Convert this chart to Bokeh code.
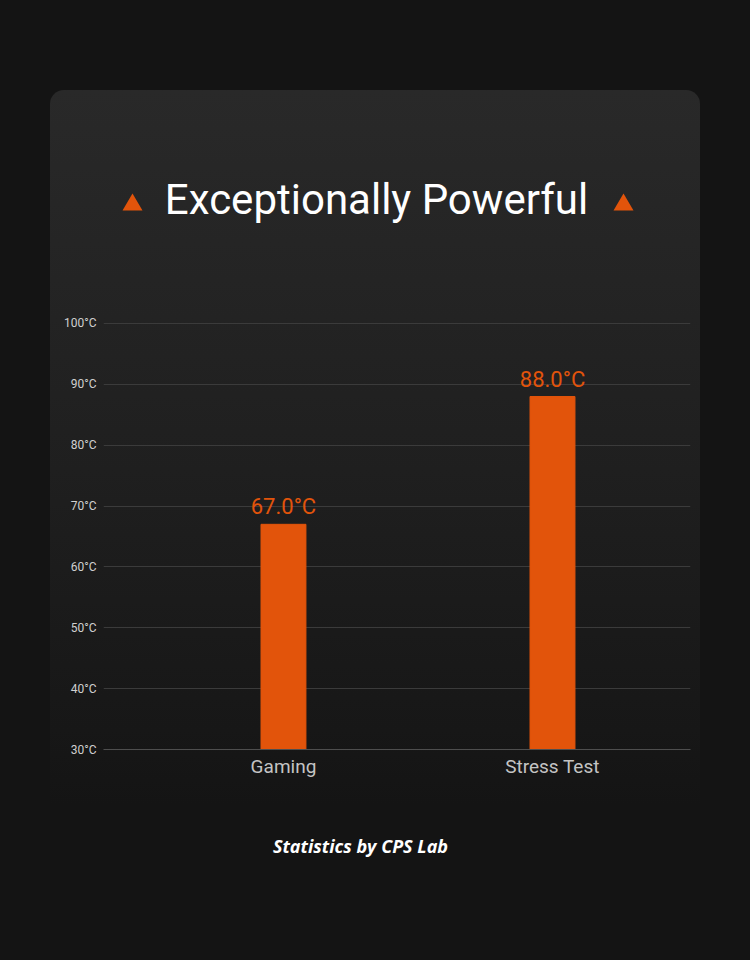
from bokeh.plotting import figure
from bokeh.layouts import column
from bokeh.models import (Range1d, FixedTicker, ColumnDataSource, LabelSet, Label)
from bokeh.core.properties import value
from bokeh.embed import file_html
from bokeh.resources import INLINE

# ---- data ----
categories = ["Gaming", "Stress Test"]
temps = [67.0, 88.0]
y_ticks = [30, 40, 50, 60, 70, 80, 90, 100]
y_tick_labels = [f"{t}°C" for t in y_ticks]
title_text = "Exceptionally Powerful"
footer_text = "Statistics by CPS Lab"

BG = "#141414"
ORANGE = "#e2540b"
CARD_W = 650
FRAME_L, FRAME_R = 53, 10  # main chart borders inside the card
GRAD = ("linear-gradient(to bottom, #292929 0px, #1f1f1f 380px, #171717 640px, "
        "#141414 715px, #141414 780px)")


def card_style(offset, radius=False):
    st = {"background-image": GRAD,
          "background-size": f"{CARD_W}px 780px",
          "background-position": f"0px {-offset}px",
          "background-repeat": "no-repeat",
          "background-color": BG}
    if radius:
        st["border-radius"] = "14px 14px 0 0"
    return st


def bare_figure(h, offset, margin, radius=False):
    # the column aligns frames with the main chart, so map card pixels onto that frame
    f = figure(width=CARD_W, height=h, output_backend="svg", toolbar_location=None,
               x_range=Range1d(FRAME_L, CARD_W - FRAME_R), y_range=Range1d(h, 0),
               x_axis_type=None, y_axis_type=None, min_border=0,
               border_fill_alpha=0, background_fill_alpha=0, outline_line_color=None,
               margin=margin, styles=card_style(offset, radius))
    f.xgrid.visible = False
    f.ygrid.visible = False
    return f


# ---- header: title with triangles (card top at page y=90) ----
HEAD_H = 210
head = bare_figure(HEAD_H, 0, (90, 50, 0, 50), radius=True)
head.add_layout(Label(x=326, y=109, text=title_text, text_align="center",
                      text_baseline="middle", text_color="#ffffff",
                      text_font="Roboto", text_font_size="42px"))
tri_x = [82, 573]
head.patches(xs=[[cx - 10, cx + 10, cx] for cx in tri_x],
             ys=[[120, 120, 103] for _ in tri_x],
             fill_color=ORANGE, line_color=None)

# ---- main chart ----
xs = [i + 0.5 for i in range(len(categories))]
src = ColumnDataSource(dict(x=xs, top=temps, label=[f"{t:.1f}°C" for t in temps]))

MAIN_H = 500
p = figure(width=CARD_W, height=MAIN_H, output_backend="svg", toolbar_location=None,
           x_range=Range1d(-0.169, 2.013), y_range=Range1d(30, 100.164),
           min_border_left=FRAME_L, min_border_right=FRAME_R, min_border_top=22,
           min_border_bottom=51,
           border_fill_alpha=0, background_fill_alpha=0, outline_line_color=None,
           margin=(0, 50, 0, 50), styles=card_style(HEAD_H))

p.vbar(x="x", top="top", bottom=30, width=0.167, source=src, color=ORANGE)
p.add_layout(LabelSet(x="x", y="top", text="label", source=src, text_align="center",
                      text_baseline="bottom", y_offset=5, text_color=ORANGE,
                      text_font=value("Roboto"), text_font_size="22px"))

p.xaxis.ticker = FixedTicker(ticks=xs)
p.xaxis.major_label_overrides = {x: c for x, c in zip(xs, categories)}
p.xaxis.major_label_text_font = "Roboto"
p.xaxis.major_label_text_font_size = "19px"
p.xaxis.major_label_text_color = "#c4c4c4"
p.xaxis.major_tick_out = 0
p.xaxis.major_tick_in = 0
p.xaxis.major_label_standoff = 5
p.xaxis.major_tick_line_color = None
p.xaxis.minor_tick_line_color = None
p.xaxis.axis_line_color = "#4e4e4e"

p.yaxis.ticker = FixedTicker(ticks=y_ticks)
p.yaxis.major_label_overrides = {t: l for t, l in zip(y_ticks, y_tick_labels)}
p.yaxis.major_label_text_font = "Roboto"
p.yaxis.major_label_text_font_size = "12px"
p.yaxis.major_label_text_color = "#d0d0d0"
p.yaxis.major_tick_out = 0
p.yaxis.major_tick_in = 0
p.yaxis.major_label_standoff = 7
p.yaxis.major_tick_line_color = None
p.yaxis.minor_tick_line_color = None
p.yaxis.axis_line_color = None

p.xgrid.grid_line_color = None
p.ygrid.ticker = FixedTicker(ticks=y_ticks)
p.ygrid.grid_line_color = "#3b3b3b"
p.ygrid.grid_line_width = 1

# ---- footer ----
FOOT_H = 160
foot = bare_figure(FOOT_H, HEAD_H + MAIN_H, (0, 50, 0, 50))
foot.add_layout(Label(x=310, y=45, text=footer_text, text_align="center",
                      text_baseline="middle", text_color="#ffffff",
                      text_font="Open Sans", text_font_style="bold italic",
                      text_font_size="18px"))

root = column(head, p, foot, width=750, height=960, spacing=0,
              styles={"background-color": BG})
open("out.html", "w").write(file_html(root, INLINE))
